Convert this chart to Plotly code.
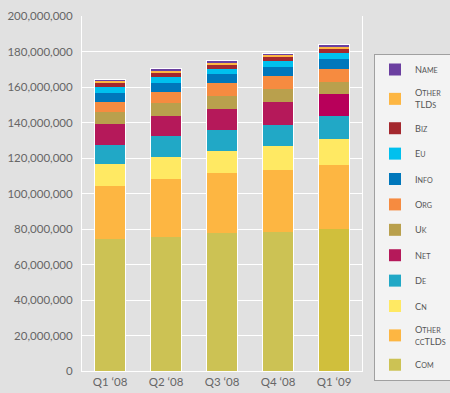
import plotly.graph_objects as go

quarters = ["Q1 ‘08", "Q2 ‘08", "Q3 ‘08", "Q4 ‘08", "Q1 ‘09"]

com = [74.2, 75.7, 77.6, 78.5, 80.0]
other_cctlds = [30.0, 32.3, 33.7, 34.8, 36.2]
cn = [12.2, 12.6, 12.8, 13.7, 14.5]
de = [10.9, 11.8, 11.8, 11.7, 13.0]
net = [11.6, 11.3, 11.8, 12.6, 12.2]
uk = [6.9, 7.1, 7.5, 7.7, 7.1]
org = [5.8, 6.6, 6.9, 7.3, 7.2]
info = [5.1, 5.1, 5.1, 4.7, 5.5]
eu = [3.2, 3.2, 3.0, 3.4, 3.4]
biz = [2.3, 2.3, 2.3, 2.3, 2.3]
other_tlds = [1.2, 1.5, 1.4, 1.5, 1.6]
name = [0.7, 0.7, 0.8, 0.8, 0.8]

S = "<span style='font-size:7.2px'>{}</span>"

def sc(first, rest):
    return first + S.format(rest)

series = [
    ("com", sc("C", "OM"), com, ["#CCC254"] * 4 + ["#D0BF3C"]),
    ("occ", "O" + S.format("THER") + "<br>" + S.format("CC") + "TLD" + S.format("S"), other_cctlds, "#FDB642"),
    ("cn", sc("C", "N"), cn, "#FFE963"),
    ("de", sc("D", "E"), de, "#21A8C6"),
    ("net", sc("N", "ET"), net, ["#B5195A"] * 4 + ["#B8005A"]),
    ("uk", sc("U", "K"), uk, "#B9A04D"),
    ("org", sc("O", "RG"), org, "#F68B40"),
    ("info", sc("I", "NFO"), info, "#0077BB"),
    ("eu", sc("E", "U"), eu, "#00C0EE"),
    ("biz", sc("B", "IZ"), biz, "#A4282E"),
    ("otld", "O" + S.format("THER") + "<br>TLD" + S.format("S"), other_tlds, "#FDB642"),
    ("name", sc("N", "AME"), name, "#6B3FA0"),
]

fig = go.Figure()
n = len(series)
for i, (key, label, vals, color) in enumerate(series):
    fig.add_trace(go.Bar(
        x=quarters, y=[v * 1e6 for v in vals], name=label,
        marker=dict(color=color, line=dict(width=0)),
        legendgroup=key, legendrank=1000 + (n - i), hoverinfo="skip",
    ))

totals = [sum(s[2][i] for s in series) * 1e6 for i in range(len(quarters))]
fig.add_trace(go.Bar(
    x=quarters, y=totals, xaxis="x2", showlegend=False,
    marker=dict(color="rgba(0,0,0,0)", line=dict(width=1, color="white")),
    hoverinfo="skip",
))

font = "Lato, 'Open Sans', sans-serif"
fig.update_layout(
    width=450, height=393,
    margin=dict(l=82, r=88, t=16, b=22, autoexpand=False),
    paper_bgcolor="#E1E1E1", plot_bgcolor="#E1E1E1",
    barmode="stack", bargap=0.43,
    font=dict(family=font, color="#666666", size=12),
    xaxis=dict(showgrid=False, showline=True, linecolor="white", mirror=False,
               tickfont=dict(size=11.5, color="#666666"), ticks=""),
    xaxis2=dict(overlaying="x", matches="x", visible=False),
    yaxis=dict(range=[0, 200e6], dtick=20e6, tickformat=",d",
               gridcolor="white", gridwidth=1, showline=True, linecolor="white",
               mirror=True, zeroline=False, ticks="", ticklabelstandoff=6,
               tickfont=dict(size=11.5, color="#666666")),
    legend=dict(x=(374 - 82) / 280, xanchor="left", y=(371 - 54) / 355, yanchor="top",
                bgcolor="#F3F3F3", bordercolor="#A0A0A0", borderwidth=1,
                traceorder="grouped", tracegroupgap=6.4,
                font=dict(size=9.2, color="#555555", family=font)),
    showlegend=True,
)
fig.write_html(
    "out.html",
    config={"displayModeBar": False},
    post_script="document.body.style.margin='0';document.body.style.overflow='hidden';document.body.style.background='#E1E1E1';",
)
